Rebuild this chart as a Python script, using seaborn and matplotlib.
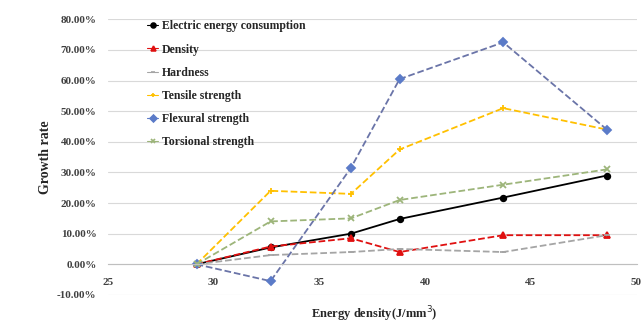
import numpy as np
import pandas as pd
import matplotlib
matplotlib.use("Agg")
import matplotlib.pyplot as plt
import seaborn as sns
from matplotlib.ticker import FuncFormatter, MultipleLocator

energy_density = [29.2, 32.7, 36.5, 38.8, 43.7, 48.6]
series_names = ["Electric energy consumption", "Density", "Hardness",
                "Tensile strength", "Flexural strength", "Torsional strength"]
electric = [0.0, 5.5, 10.0, 14.8, 21.8, 29.0]
density = [0.0, 5.8, 8.5, 4.0, 9.5, 9.5]
hardness = [0.0, 3.0, 4.0, 5.0, 4.0, 9.5]
tensile = [0.0, 24.0, 23.0, 37.5, 51.0, 44.0]
flexural = [0.0, -5.5, 31.5, 60.5, 72.5, 44.0]
torsional = [0.0, 14.0, 15.0, 21.0, 26.0, 31.0]

values = [electric, density, hardness, tensile, flexural, torsional]
df = pd.DataFrame({
    "x": energy_density * len(series_names),
    "y": [v for s in values for v in s],
    "series": [n for n in series_names for _ in energy_density],
})

colors = ["#000000", "#E01010", "#A5A5A5", "#FFC000", "#5B7BC8", "#9DB57A"]
line_colors = ["#000000", "#E01010", "#A5A5A5", "#FFC000", "#6A74A8", "#9DB57A"]
markers = ["o", "^", "_", "+", "D", "x"]

sns.set_style("white")
plt.rcParams["font.family"] = ["Liberation Serif", "DejaVu Serif"]

fig, ax = plt.subplots(figsize=(6.41, 3.23), dpi=100)
fig.subplots_adjust(left=0.168, right=0.993, top=0.94, bottom=0.087)

for i, name in enumerate(series_names):
    sub = df[df["series"] == name]
    sns.lineplot(data=sub, x="x", y="y", ax=ax, color=line_colors[i],
                 linestyle="-" if i == 0 else "--", linewidth=1.3,
                 marker=markers[i], markersize=4, markerfacecolor=colors[i],
                 markeredgecolor=colors[i], markeredgewidth=1.3,
                 label=name, legend=False)

ax.set_xlim(25, 50)
ax.set_ylim(-10, 80)
ax.yaxis.set_major_locator(MultipleLocator(10))
ax.xaxis.set_major_locator(MultipleLocator(5))
ax.yaxis.set_major_formatter(FuncFormatter(lambda v, p: f"{v:.2f}%"))
ax.grid(axis="y", color="#D9D9D9", linewidth=0.8)
for s in ["top", "right", "left"]:
    ax.spines[s].set_visible(False)
ax.spines["bottom"].set_position(("data", 0))
ax.spines["bottom"].set_color("#BFBFBF")
ax.tick_params(axis="both", length=0, labelsize=8, colors="#404040")
ax.tick_params(axis="y", pad=8)
ax.tick_params(axis="x", pad=10)
for t in ax.get_xticklabels() + ax.get_yticklabels():
    t.set_fontweight("bold")

ax.set_xlabel("Energy density(J/mm$^3$)", fontsize=9, fontweight="bold")
ax.set_ylabel("Growth rate", fontsize=10, fontweight="bold", labelpad=4)
ax.xaxis.set_label_coords(0.505, -0.035)

handles = []
for i, name in enumerate(series_names):
    h, = ax.plot([], [], color=colors[i], marker=markers[i], linestyle="-",
                 linewidth=0.8, markersize=3.5, markeredgewidth=1.2)
    handles.append(h)
leg = ax.legend(handles, series_names, loc="upper left",
                bbox_to_anchor=(0.055, 1.035), frameon=False,
                handlelength=0.9, handletextpad=0.3, labelspacing=0.95,
                prop={"weight": "bold", "size": 8.5})

fig.savefig("out.png", dpi=100)
